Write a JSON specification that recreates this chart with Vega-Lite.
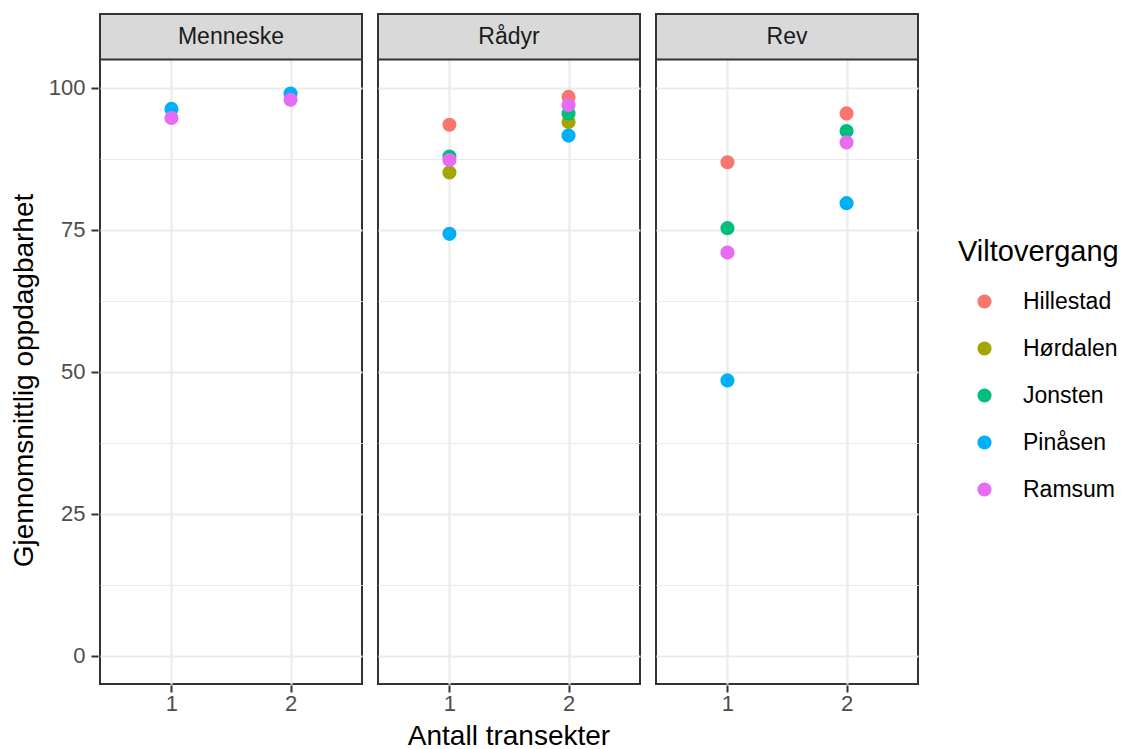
{
  "$schema": "https://vega.github.io/schema/vega-lite/v6.json",
  "padding": {"left": 10, "top": 12, "right": 4, "bottom": 2},
  "background": "white",
  "config": {
    "font": "Liberation Sans",
    "view": {"stroke": "#333333", "strokeWidth": 2}
  },
  "data": {
    "values": [
      {"panel": "Menneske", "transekter": 1, "viltovergang": "Pinåsen", "oppdagbarhet": 96.3},
      {"panel": "Menneske", "transekter": 1, "viltovergang": "Ramsum", "oppdagbarhet": 94.7},
      {"panel": "Menneske", "transekter": 2, "viltovergang": "Pinåsen", "oppdagbarhet": 99.0},
      {"panel": "Menneske", "transekter": 2, "viltovergang": "Ramsum", "oppdagbarhet": 97.9},
      {"panel": "Rådyr", "transekter": 1, "viltovergang": "Hillestad", "oppdagbarhet": 93.5},
      {"panel": "Rådyr", "transekter": 1, "viltovergang": "Hørdalen", "oppdagbarhet": 85.1},
      {"panel": "Rådyr", "transekter": 1, "viltovergang": "Jonsten", "oppdagbarhet": 87.9},
      {"panel": "Rådyr", "transekter": 1, "viltovergang": "Pinåsen", "oppdagbarhet": 74.3},
      {"panel": "Rådyr", "transekter": 1, "viltovergang": "Ramsum", "oppdagbarhet": 87.3},
      {"panel": "Rådyr", "transekter": 2, "viltovergang": "Hillestad", "oppdagbarhet": 98.4},
      {"panel": "Rådyr", "transekter": 2, "viltovergang": "Hørdalen", "oppdagbarhet": 94.0},
      {"panel": "Rådyr", "transekter": 2, "viltovergang": "Jonsten", "oppdagbarhet": 95.5},
      {"panel": "Rådyr", "transekter": 2, "viltovergang": "Pinåsen", "oppdagbarhet": 91.6},
      {"panel": "Rådyr", "transekter": 2, "viltovergang": "Ramsum", "oppdagbarhet": 97.0},
      {"panel": "Rev", "transekter": 1, "viltovergang": "Hillestad", "oppdagbarhet": 86.9},
      {"panel": "Rev", "transekter": 1, "viltovergang": "Jonsten", "oppdagbarhet": 75.3},
      {"panel": "Rev", "transekter": 1, "viltovergang": "Pinåsen", "oppdagbarhet": 48.5},
      {"panel": "Rev", "transekter": 1, "viltovergang": "Ramsum", "oppdagbarhet": 71.0},
      {"panel": "Rev", "transekter": 2, "viltovergang": "Hillestad", "oppdagbarhet": 95.5},
      {"panel": "Rev", "transekter": 2, "viltovergang": "Jonsten", "oppdagbarhet": 92.4},
      {"panel": "Rev", "transekter": 2, "viltovergang": "Pinåsen", "oppdagbarhet": 79.7},
      {"panel": "Rev", "transekter": 2, "viltovergang": "Ramsum", "oppdagbarhet": 90.4}
    ]
  },
  "facet": {
    "column": {
      "field": "panel",
      "type": "nominal",
      "sort": ["Menneske", "Rådyr", "Rev"],
      "header": {
        "labels": false,
        "title": "Antall transekter",
        "titleOrient": "bottom",
        "titleFontSize": 28,
        "titleFontWeight": "normal",
        "titleColor": "black",
        "titlePadding": -1,
        "titleFont": "Liberation Sans"
      }
    }
  },
  "spacing": 12,
  "resolve": {"scale": {"x": "shared", "y": "shared"}},
  "spec": {
    "width": 262,
    "height": 670,
    "layer": [
      {
        "mark": {"type": "circle", "size": 200, "opacity": 1},
        "encoding": {
          "x": {
            "field": "transekter",
            "type": "quantitative",
            "scale": {"domain": [0.4, 2.6], "nice": false, "zero": false},
            "axis": {
              "values": [1, 2],
              "format": "d",
              "title": null,
              "labelFontSize": 22,
              "labelColor": "#4D4D4D",
              "labelPadding": 1,
              "tickSize": 7,
              "tickWidth": 2,
              "tickColor": "#333333",
              "domain": false,
              "gridColor": "#EBEBEB",
              "gridWidth": 2.2
            }
          },
          "y": {
            "field": "oppdagbarhet",
            "type": "quantitative",
            "scale": {"domain": [-4.93, 113.0], "nice": false, "zero": false},
            "axis": {
              "values": [0, 12.5, 25, 37.5, 50, 62.5, 75, 87.5, 100],
              "labelExpr": "datum.value % 25 == 0 ? datum.label : ''",
              "title": "Gjennomsnittlig oppdagbarhet",
              "titleFontSize": 28,
              "titleFontWeight": "normal",
              "titleColor": "black",
              "titlePadding": 10,
              "titleY": 366,
              "labelFontSize": 22,
              "labelColor": "#4D4D4D",
              "labelPadding": 6,
              "tickSize": 7,
              "tickWidth": 2,
              "tickColor": "#333333",
              "tickOpacity": {"condition": {"test": "datum.value % 25 == 0", "value": 1}, "value": 0},
              "domain": false,
              "gridColor": "#EBEBEB",
              "gridWidth": {"condition": {"test": "datum.value % 25 == 0", "value": 2.2}, "value": 1.2}
            }
          },
          "color": {
            "field": "viltovergang",
            "type": "nominal",
            "scale": {
              "domain": ["Hillestad", "Hørdalen", "Jonsten", "Pinåsen", "Ramsum"],
              "range": ["#F8766D", "#A3A500", "#00BF7D", "#00B0F6", "#E76BF3"]
            },
            "legend": {
              "title": "Viltovergang",
              "orient": "none",
              "legendX": 858,
              "legendY": 224,
              "titleFontSize": 29,
              "titleFontWeight": "normal",
              "titleColor": "black",
              "titlePadding": 23,
              "labelFontSize": 23,
              "labelColor": "black",
              "labelOffset": 27,
              "symbolOffset": 15,
              "symbolType": "circle",
              "symbolSize": 200,
              "symbolStrokeWidth": 0,
              "rowPadding": 23
            }
          }
        }
      },
      {
        "transform": [{"aggregate": [], "groupby": ["panel"]}],
        "mark": {"type": "rect", "fill": "#D9D9D9", "stroke": "#333333", "strokeWidth": 2},
        "encoding": {
          "y": {"datum": 105.0, "type": "quantitative"},
          "y2": {"datum": 113.0}
        }
      },
      {
        "transform": [{"aggregate": [], "groupby": ["panel"]}],
        "mark": {"type": "text", "fontSize": 23, "color": "#1A1A1A", "baseline": "middle", "align": "center"},
        "encoding": {
          "x": {"datum": 1.5, "type": "quantitative"},
          "y": {"datum": 109.0, "type": "quantitative"},
          "text": {"field": "panel", "type": "nominal"}
        }
      }
    ]
  }
}
